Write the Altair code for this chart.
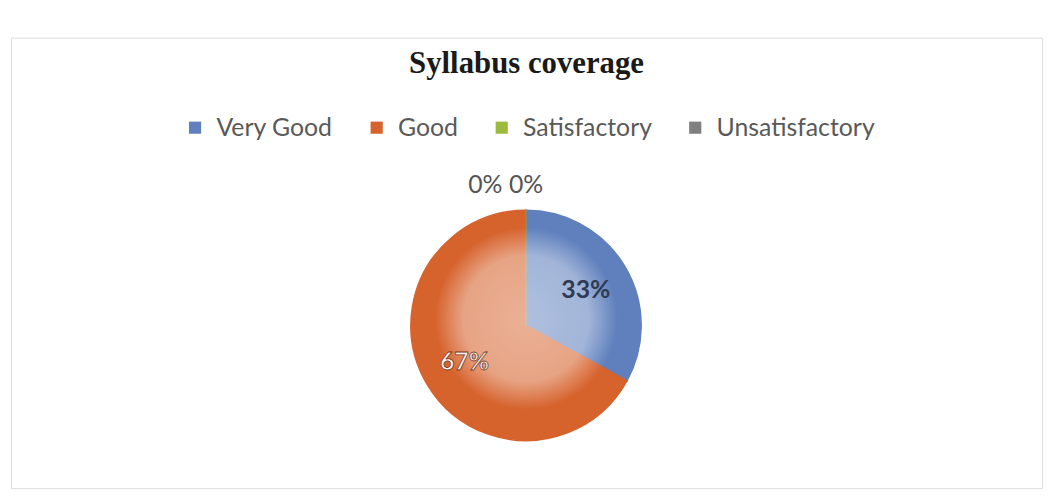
import math
import altair as alt
import pandas as pd

# ---- data ----
categories = ["Very Good", "Good", "Satisfactory", "Unsatisfactory"]
values = [33, 67, 0, 0]
labels = ["33%", "67%", "0%", "0%"]
order = [0, 1, 2, 3]
colors = ["#5f80bd", "#d6622c", "#9bbb3c", "#7f7f7f"]
title_text = "Syllabus coverage"

df = pd.DataFrame({"category": categories, "value": values, "label": labels, "order": order})

W, H = 1039, 454
CX, CY = 519, 290
R = 116

theta_scale = alt.Scale(domain=[0, 100])
color_scale = alt.Scale(domain=categories, range=colors)

pie = alt.Chart(df).mark_arc(radius=R, strokeWidth=1.5).encode(
    theta=alt.Theta("value:Q", stack=True, scale=theta_scale),
    color=alt.Color(
        "category:N",
        scale=color_scale,
        sort=categories,
        legend=alt.Legend(
            title=None,
            orient="none",
            legendX=173,
            legendY=78,
            direction="horizontal",
            columns=4,
            symbolType="square",
            symbolSize=150,
            symbolStrokeWidth=0,
            labelFont="Lato",
            labelFontSize=25,
            labelColor="#595959",
            labelOffset=9,
            columnPadding=31,
        ),
    ),
    stroke=alt.Stroke("category:N", scale=color_scale, legend=None),
    order=alt.Order("order:Q"),
    x=alt.value(CX),
    y=alt.value(CY),
)

wash = alt.Chart(pd.DataFrame({"a": [0]})).mark_arc(
    radius=R - 1,
    theta=0,
    theta2=2 * math.pi,
    fill={
        "gradient": "radial",
        "x1": 0.5, "y1": 0.47, "r1": 0,
        "x2": 0.5, "y2": 0.47, "r2": 0.5,
        "stops": [
            {"offset": 0, "color": "rgba(255,255,255,0.5)"},
            {"offset": 0.55, "color": "rgba(255,255,255,0.42)"},
            {"offset": 0.8, "color": "rgba(255,255,255,0)"},
            {"offset": 1, "color": "rgba(255,255,255,0)"},
        ],
    },
).encode(x=alt.value(CX), y=alt.value(CY))

base_txt = alt.Chart(df).transform_window(
    cum="sum(value)", sort=[alt.SortField("order")], frame=[None, 0]
).transform_calculate(mid="datum.cum - datum.value / 2")

def label_layer(cat, radius, dx=0, fill="#404040", stroke=None, weight="normal"):
    kw = dict(radius=radius, dx=dx, font="Lato", fontSize=25, fill=fill,
              align="center", baseline="middle", fontWeight=weight)
    if stroke:
        kw.update(stroke=stroke, strokeWidth=0.8)
    return base_txt.transform_filter(alt.datum.category == cat).mark_text(**kw).encode(
        theta=alt.Theta("mid:Q", stack=None, scale=theta_scale),
        text="label:N",
        x=alt.value(CX),
        y=alt.value(CY),
    )

t1 = label_layer("Very Good", 70, fill="#2f3b55", weight="bold")
t2 = label_layer("Good", 72, fill="#f6f1ec", stroke="#7a3418", weight="bold")
t3 = label_layer("Satisfactory", 141, dx=-41, fill="#555555")
t4 = label_layer("Unsatisfactory", 141, dx=0, fill="#555555")

chart = alt.layer(pie, wash, t1, t2, t3, t4).properties(
    width=W,
    height=H,
    title=alt.TitleParams(
        title_text,
        font="Liberation Serif",
        fontSize=31,
        fontWeight="bold",
        color="#1a1a1a",
        anchor="middle",
        orient="top",
        baseline="alphabetic",
        offset=-67,
    ),
    autosize=alt.AutoSizeParams(type="none"),
    padding={"left": 3, "top": 28, "right": 9, "bottom": 1},
).configure_view(stroke="#b0b0b0", strokeWidth=1.2).configure(background="white")

chart.save("out.html", embed_options={"renderer": "svg", "actions": False})
